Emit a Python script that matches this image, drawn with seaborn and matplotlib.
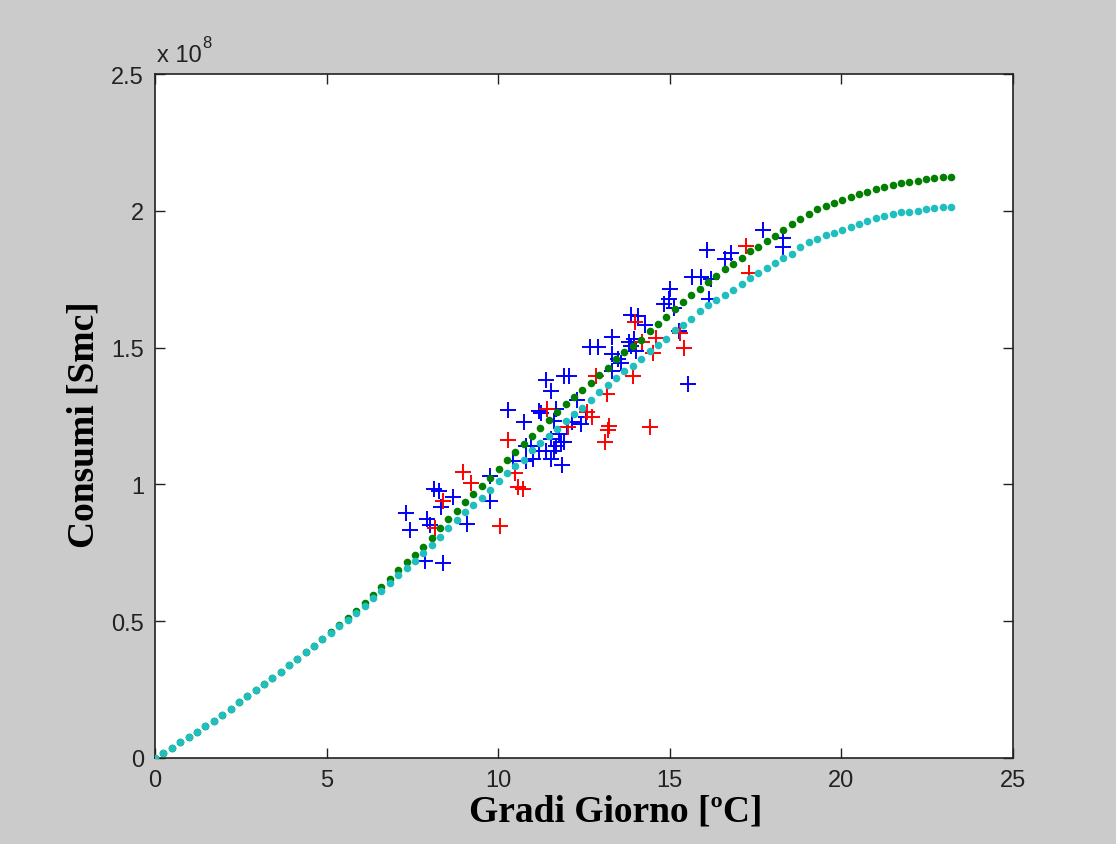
import matplotlib
matplotlib.use("Agg")
import matplotlib.pyplot as plt
import seaborn as sns

# ---------------- data (consumption in units of 1e8 Smc) ----------------
grid_x = [0.00, 0.24, 0.49, 0.73, 0.98, 1.22, 1.47, 1.71, 1.95, 2.20,
          2.44, 2.69, 2.93, 3.17, 3.42, 3.66, 3.91, 4.15, 4.40, 4.64,
          4.88, 5.13, 5.37, 5.62, 5.86, 6.11, 6.35, 6.59, 6.84, 7.08,
          7.33, 7.57, 7.81, 8.06, 8.30, 8.55, 8.79, 9.04, 9.28, 9.52,
          9.77, 10.01, 10.26, 10.50, 10.74, 10.99, 11.23, 11.48, 11.72, 11.97,
          12.21, 12.45, 12.70, 12.94, 13.19, 13.43, 13.68, 13.92, 14.16, 14.41,
          14.65, 14.90, 15.14, 15.38, 15.63, 15.87, 16.12, 16.36, 16.61, 16.85,
          17.09, 17.34, 17.58, 17.83, 18.07, 18.31, 18.56, 18.80, 19.05, 19.29,
          19.54, 19.78, 20.02, 20.27, 20.51, 20.76, 21.00, 21.24, 21.49, 21.73,
          21.98, 22.22, 22.47, 22.71, 22.95, 23.20]

model_cyan = [0.000, 0.019, 0.038, 0.057, 0.077, 0.096, 0.116, 0.136, 0.157, 0.180,
              0.204, 0.227, 0.250, 0.272, 0.294, 0.316, 0.339, 0.362, 0.386, 0.410,
              0.434, 0.457, 0.481, 0.505, 0.530, 0.556, 0.583, 0.611, 0.640, 0.668,
              0.694, 0.720, 0.750, 0.780, 0.808, 0.840, 0.869, 0.898, 0.924, 0.951,
              0.981, 1.013, 1.040, 1.067, 1.091, 1.125, 1.150, 1.176, 1.202, 1.230,
              1.256, 1.281, 1.308, 1.338, 1.365, 1.389, 1.413, 1.433, 1.457, 1.488,
              1.510, 1.531, 1.563, 1.583, 1.605, 1.635, 1.657, 1.674, 1.694, 1.712,
              1.733, 1.755, 1.774, 1.790, 1.809, 1.826, 1.842, 1.866, 1.886, 1.898,
              1.911, 1.920, 1.929, 1.942, 1.952, 1.962, 1.972, 1.980, 1.988, 1.994,
              1.997, 2.000, 2.005, 2.009, 2.013, 2.013]

model_green = [0.000, 0.019, 0.038, 0.057, 0.077, 0.096, 0.116, 0.136, 0.157, 0.180,
               0.204, 0.227, 0.250, 0.272, 0.294, 0.316, 0.339, 0.362, 0.386, 0.410,
               0.436, 0.460, 0.485, 0.511, 0.537, 0.565, 0.594, 0.624, 0.656, 0.686,
               0.715, 0.742, 0.772, 0.805, 0.840, 0.872, 0.903, 0.934, 0.964, 0.993,
               1.024, 1.055, 1.089, 1.118, 1.148, 1.178, 1.207, 1.236, 1.264, 1.294,
               1.321, 1.345, 1.372, 1.400, 1.427, 1.457, 1.485, 1.507, 1.529, 1.561,
               1.587, 1.611, 1.642, 1.666, 1.692, 1.714, 1.739, 1.760, 1.786, 1.805,
               1.829, 1.852, 1.869, 1.888, 1.909, 1.931, 1.953, 1.969, 1.987, 2.005,
               2.018, 2.029, 2.039, 2.050, 2.061, 2.070, 2.080, 2.088, 2.094, 2.101,
               2.106, 2.109, 2.116, 2.120, 2.125, 2.125]

blue_x = [7.32, 7.43, 7.88, 8.38, 8.12, 8.27, 7.92, 8.00, 8.67, 8.33,
          9.10, 9.76, 9.77, 10.42, 11.02, 10.30, 10.76, 11.39, 11.55, 11.25,
          11.63, 11.92, 12.06, 12.31, 12.40, 12.55, 12.14, 11.82, 11.87, 11.39,
          10.80, 11.53, 11.68, 11.77, 11.53, 12.67, 12.92, 13.33, 13.88, 14.08,
          14.28, 13.80, 13.48, 13.33, 13.57, 13.33, 15.52, 12.00, 16.07, 16.78,
          16.60, 17.72, 15.65, 15.92, 16.20, 16.15, 15.02, 14.97, 15.12, 14.83,
          13.95, 14.01, 18.31, 18.31, 15.26, 10.80, 11.63, 11.19, 11.68, 11.92,
          13.87, 11.20, 10.95]
blue_y = [0.896, 0.832, 0.720, 0.712, 0.984, 0.976, 0.872, 0.850, 0.955, 0.916,
          0.854, 0.938, 1.032, 1.087, 1.093, 1.271, 1.227, 1.380, 1.340, 1.260,
          1.232, 1.397, 1.397, 1.310, 1.221, 1.245, 1.227, 1.154, 1.071, 1.123,
          1.087, 1.093, 1.142, 1.184, 1.166, 1.504, 1.504, 1.538, 1.619, 1.617,
          1.584, 1.520, 1.458, 1.416, 1.445, 1.475, 1.366, 1.210, 1.856, 1.845,
          1.824, 1.928, 1.758, 1.757, 1.752, 1.678, 1.715, 1.678, 1.644, 1.660,
          1.531, 1.489, 1.900, 1.866, 1.562, 1.142, 1.123, 1.269, 1.276, 1.154,
          1.507, 1.123, 1.142]

red_x = [8.15, 8.38, 8.96, 9.22, 10.06, 10.28, 10.48, 10.58, 10.72, 11.43,
         12.02, 12.60, 12.74, 12.86, 13.18, 13.23, 13.12, 13.20, 13.92, 14.43,
         14.00, 14.20, 14.50, 14.60, 15.31, 15.41, 17.22, 17.30]
red_y = [0.842, 0.940, 1.044, 1.004, 0.848, 1.162, 1.040, 0.990, 0.985, 1.276,
         1.208, 1.263, 1.248, 1.395, 1.330, 1.215, 1.154, 1.198, 1.397, 1.208,
         1.595, 1.519, 1.480, 1.535, 1.553, 1.498, 1.872, 1.771]

x_ticks = [0, 5, 10, 15, 20, 25]
x_ticklabels = ["0", "5", "10", "15", "20", "25"]
y_ticks = [0, 0.5, 1, 1.5, 2, 2.5]
y_ticklabels = ["0", "0.5", "1", "1.5", "2", "2.5"]

# ---------------- figure ----------------
W, H = 1116, 845
fig = plt.figure(figsize=(W / 100, H / 100), dpi=100, facecolor="#cbcbcb")
ax = fig.add_axes([155 / W, 1 - 759 / H, (1013 - 155) / W, (759 - 75) / H])
ax.set_facecolor("white")

sns.scatterplot(x=blue_x, y=blue_y, marker="+", color="#0000ff", s=120,
                linewidth=1.4, ax=ax, zorder=2, legend=False)
sns.scatterplot(x=red_x, y=red_y, marker="+", color="#ff0000", s=120,
                linewidth=1.4, ax=ax, zorder=3, legend=False)
sns.scatterplot(x=grid_x, y=model_green, marker="o", color="#007f00", s=30,
                linewidth=0, ax=ax, zorder=4, legend=False)
sns.scatterplot(x=grid_x, y=model_cyan, marker="o", color="#1fbfbf", s=30,
                linewidth=0, ax=ax, zorder=5, legend=False)

ax.set_xlim(0, 25)
ax.set_ylim(0, 2.5)
ax.set_xticks(x_ticks)
ax.set_xticklabels(x_ticklabels)
ax.set_yticks(y_ticks)
ax.set_yticklabels(y_ticklabels)

tick_font = "Liberation Sans"
for lab in ax.get_xticklabels() + ax.get_yticklabels():
    lab.set_fontfamily(tick_font)
ax.tick_params(direction="in", top=True, right=True, length=7, width=1,
               labelsize=17, pad=8, colors="#222222")
for sp in ax.spines.values():
    sp.set_linewidth(1.2)
    sp.set_color("#222222")

ax.set_xlabel("Gradi Giorno [ºC]", fontfamily="Liberation Serif",
              fontweight="bold", fontsize=27, color="black")
ax.set_ylabel("Consumi [Smc]", fontfamily="Liberation Serif",
              fontweight="bold", fontsize=27, color="black")
ax.xaxis.set_label_coords((616 - 155) / (1013 - 155), -(812 - 759) / (759 - 75))
ax.yaxis.set_label_coords(-(155 - 84) / (1013 - 155), (759 - 425) / (759 - 75))
ax.xaxis.label.set_verticalalignment("center")
ax.yaxis.label.set_verticalalignment("center")

fig.text(157 / W, 1 - 62 / H, "x 10", fontfamily=tick_font, fontsize=17,
         color="#222222", ha="left", va="baseline")
fig.text(202 / W, 1 - 48 / H, "8", fontfamily=tick_font, fontsize=12,
         color="#222222", ha="left", va="baseline")

fig.savefig("out.png", dpi=100, facecolor=fig.get_facecolor())
